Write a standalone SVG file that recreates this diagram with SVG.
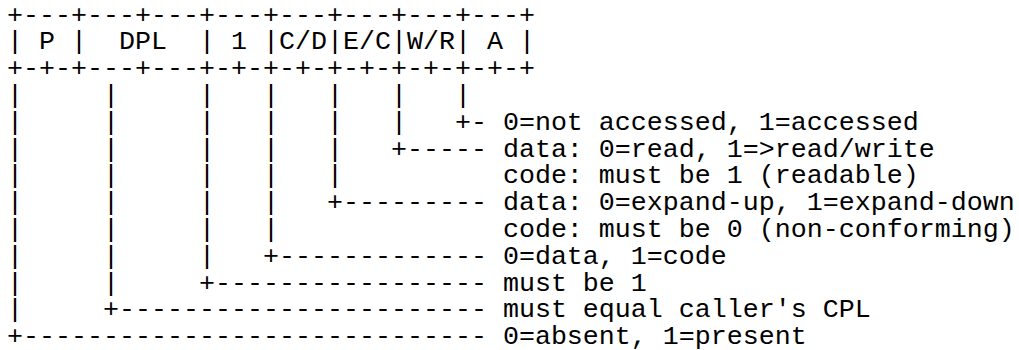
<svg xmlns="http://www.w3.org/2000/svg" width="1019" height="350" viewBox="0 0 1019 350" xml:space="preserve">
<style>
  .t { font-family: "Liberation Mono", "Courier New", monospace; font-size: 26.67px; fill: #000; white-space: pre; }
</style>
<rect width="1019" height="350" fill="#fff"/>
<g id="header">
<text class="t" x="7" y="22.5">+---+---+---+---+---+---+---+---+</text>
<text class="t" x="7" y="49.3">| P |  DPL  | 1 |C/D|E/C|W/R| A |</text>
<text class="t" x="7" y="76.1">+-+-+---+---+-+-+-+-+-+-+-+-+-+-+</text>
</g>
<g id="connectors">
<text class="t" x="7" y="102.9">|     |     |   |   |   |   |</text>
<text class="t" x="7" y="129.7">|     |     |   |   |   |   +- 0=not accessed, 1=accessed</text>
<text class="t" x="7" y="156.5">|     |     |   |   |   +----- data: 0=read, 1=&gt;read/write</text>
<text class="t" x="7" y="183.3">|     |     |   |   |          code: must be 1 (readable)</text>
<text class="t" x="7" y="210.1">|     |     |   |   +--------- data: 0=expand-up, 1=expand-down</text>
<text class="t" x="7" y="236.9">|     |     |   |              code: must be 0 (non-conforming)</text>
<text class="t" x="7" y="263.7">|     |     |   +------------- 0=data, 1=code</text>
<text class="t" x="7" y="290.5">|     |     +----------------- must be 1</text>
<text class="t" x="7" y="317.3">|     +----------------------- must equal caller's CPL</text>
<text class="t" x="7" y="344.1">+----------------------------- 0=absent, 1=present</text>
</g>
</svg>
